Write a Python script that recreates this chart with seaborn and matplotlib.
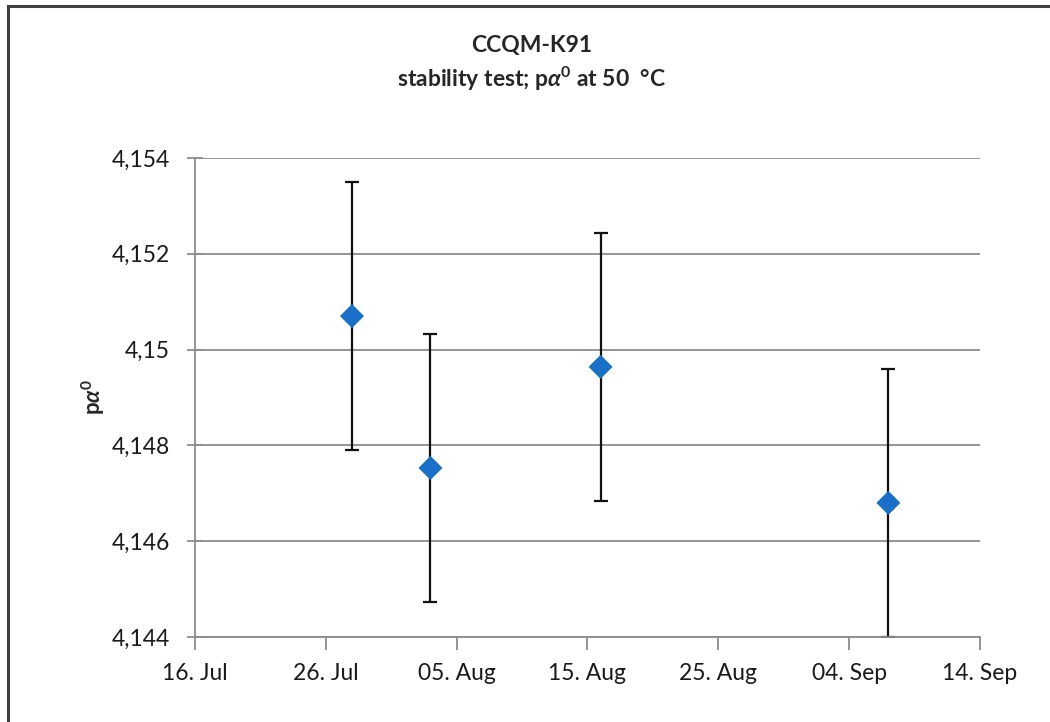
import matplotlib
matplotlib.use("Agg")
import matplotlib.pyplot as plt
import matplotlib.dates as mdates
from matplotlib.ticker import FuncFormatter, FixedLocator
from matplotlib.patches import Rectangle
import seaborn as sns
import pandas as pd

# Measurement dates, mean p·alpha0 values and their uncertainties
dates = ["2011-07-28", "2011-08-03", "2011-08-16", "2011-09-07"]
values = [4.1507, 4.14753, 4.14964, 4.1468]
uncert = [0.0028, 0.0028, 0.0028, 0.0028]
y_ticks = [4.144, 4.146, 4.148, 4.150, 4.152, 4.154]
x_ticks = ["2011-07-16", "2011-07-26", "2011-08-05", "2011-08-15",
           "2011-08-25", "2011-09-04", "2011-09-14"]

sns.set_style("white")
plt.rcParams["font.family"] = ["Lato", "DejaVu Sans"]
plt.rcParams["mathtext.fontset"] = "custom"
plt.rcParams["mathtext.rm"] = "Lato"
plt.rcParams["mathtext.it"] = "Lato:italic"
plt.rcParams["mathtext.bf"] = "Lato:bold"
plt.rcParams["mathtext.bfit"] = "Lato:italic:bold"

df = pd.DataFrame({"date": pd.to_datetime(dates), "value": values, "u": uncert})

fig = plt.figure(figsize=(10.5, 7.22), dpi=100)
ax = fig.add_axes([0.1857, 0.1177, 0.7476, 0.6635])

# Chart-area frame
fig.patches.append(Rectangle((8 / 1050, -0.05), 1.1, 1 - 6 / 722 + 0.05,
                             transform=fig.transFigure, fill=False,
                             edgecolor="#404040", linewidth=2.2, zorder=0))

ax.errorbar(df["date"], df["value"], yerr=df["u"], fmt="none",
            ecolor="#111111", elinewidth=1.6, capsize=5, capthick=1.6, zorder=2)
sns.scatterplot(data=df, x="date", y="value", marker="D", s=150,
                color="#1a6fc6", edgecolor="none", ax=ax, zorder=3)

ax.set_xlim(pd.Timestamp(x_ticks[0]), pd.Timestamp(x_ticks[-1]))
ax.set_ylim(y_ticks[0], y_ticks[-1])
ax.xaxis.set_major_locator(FixedLocator(mdates.date2num(pd.to_datetime(x_ticks))))
ax.xaxis.set_major_formatter(mdates.DateFormatter("%d. %b"))
ax.yaxis.set_major_locator(FixedLocator(y_ticks))
ax.yaxis.set_major_formatter(FuncFormatter(lambda v, p: f"{round(v, 3):g}".replace(".", ",")))

ax.grid(axis="y", color="#8c8c8c", linewidth=1.3)
ax.grid(axis="x", visible=False)
for side in ["top", "right"]:
    ax.spines[side].set_visible(False)
for side in ["left", "bottom"]:
    ax.spines[side].set_color("#8c8c8c")
    ax.spines[side].set_linewidth(1.3)

ax.tick_params(axis="x", direction="out", length=9, width=1.3, color="#8c8c8c",
               labelsize=16.5, labelcolor="#1a1a1a", pad=10, bottom=True)
ax.tick_params(axis="y", direction="inout", length=12, width=1.3, color="#8c8c8c",
               labelsize=16.5, labelcolor="#1a1a1a", pad=12, left=True)

ax.set_xlabel("")
ax.set_ylabel(r"p$\mathbfit{\alpha}^{\mathbf{0}}$", fontsize=16, fontweight="bold")
ax.yaxis.set_label_coords(-0.112, 0.5)

fig.text(0.506, 0.937, "CCQM-K91", ha="center", va="center",
         fontsize=16.5, fontweight="bold")
fig.text(0.506, 0.891, r"stability test; p$\mathbfit{\alpha}^{\mathbf{0}}$ at 50  °C",
         ha="center", va="center", fontsize=16.5, fontweight="bold")

fig.savefig("out.png", dpi=100)
